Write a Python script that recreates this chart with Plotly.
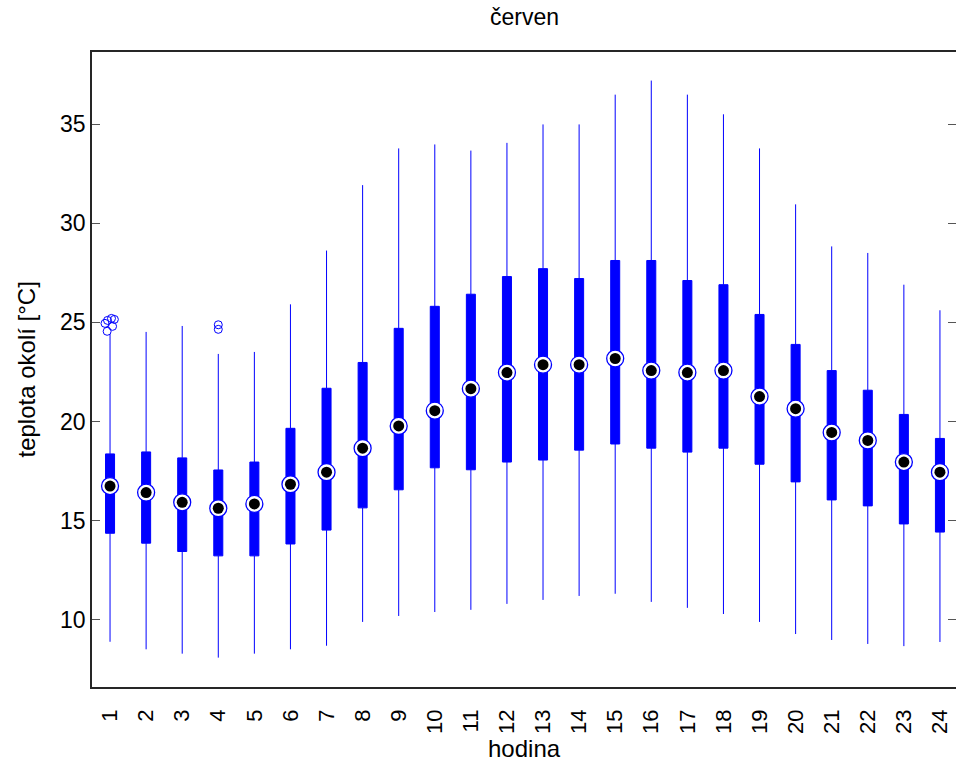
import plotly.graph_objects as go

hours = list(range(1, 25))
upper = [24.4, 24.52, 24.82, 23.41, 23.51, 25.91, 28.62, 31.92, 33.77, 33.97, 33.66, 34.05,
         34.98, 34.98, 36.48, 37.19, 36.48, 35.49, 33.77, 30.95, 28.83, 28.50, 26.90, 25.61]
q3 = [18.37, 18.47, 18.17, 17.56, 17.96, 19.66, 21.68, 22.98, 24.70, 25.81, 26.42, 27.31,
      27.71, 27.21, 28.12, 28.12, 27.11, 26.90, 25.40, 23.89, 22.57, 21.58, 20.36, 19.15]
median = [16.75, 16.42, 15.93, 15.63, 15.85, 16.84, 17.45, 18.66, 19.78, 20.55, 21.66, 22.47,
          22.87, 22.87, 23.18, 22.57, 22.47, 22.57, 21.26, 20.65, 19.45, 19.05, 17.96, 17.45]
q1 = [14.37, 13.87, 13.45, 13.23, 13.23, 13.83, 14.53, 15.65, 16.56, 17.67, 17.57, 17.96,
      18.06, 18.56, 18.87, 18.66, 18.46, 18.66, 17.85, 16.96, 16.05, 15.75, 14.84, 14.43]
lower = [8.90, 8.52, 8.30, 8.10, 8.30, 8.52, 8.70, 9.90, 10.20, 10.40, 10.51, 10.81,
         11.01, 11.21, 11.32, 10.91, 10.61, 10.30, 9.90, 9.29, 8.99, 8.79, 8.68, 8.89]

outlier_x = [0.86, 0.93, 1.04, 1.12, 1.07, 0.92, 4.0, 4.0]
outlier_y = [24.95, 25.1, 25.2, 25.15, 24.8, 24.55, 24.88, 24.65]

y_ticks = [10, 15, 20, 25, 30, 35]

BLUE = "#0000ff"
FONT = "Liberation Sans, Arial, sans-serif"

fig = go.Figure()
fig.add_trace(go.Box(
    x=hours, q1=q1, median=median, q3=q3, lowerfence=lower, upperfence=upper,
    fillcolor=BLUE, line=dict(color=BLUE, width=1), width=0.25, whiskerwidth=0,
    boxpoints=False, showlegend=False, hoverinfo="skip",
))
fig.add_trace(go.Scatter(
    x=outlier_x, y=outlier_y, mode="markers", showlegend=False,
    marker=dict(symbol="circle-open", size=8, color=BLUE, line=dict(width=1, color=BLUE)),
))
fig.add_trace(go.Scatter(
    x=hours, y=median, mode="markers", showlegend=False,
    marker=dict(symbol="circle", size=17, color="white", line=dict(width=1.3, color=BLUE)),
))
fig.add_trace(go.Scatter(
    x=hours, y=median, mode="markers", showlegend=False,
    marker=dict(symbol="circle", size=11, color="black", line=dict(width=0)),
))
# invisible trace on the right y axis for mirrored ticks
fig.add_trace(go.Scatter(x=[hours[0]], y=[median[0]], yaxis="y2", mode="markers",
                         marker=dict(opacity=0), showlegend=False, hoverinfo="skip"))

yr = [6.62, 38.63]
fig.update_layout(
    width=956, height=762,
    margin=dict(l=92, r=0, t=52, b=75),
    paper_bgcolor="white", plot_bgcolor="white",
    font=dict(family=FONT, size=23, color="black"),
    showlegend=False,
    xaxis=dict(
        range=[0.5, 24.445], tickmode="array", tickvals=hours, ticktext=[str(h) for h in hours],
        tickangle=-90, ticks="outside", ticklen=12, tickcolor="rgba(0,0,0,0)",
        showgrid=False, zeroline=False,
        showline=True, mirror=True, linecolor="#262626", linewidth=1.5,
        tickfont=dict(size=22), automargin=False,
    ),
    yaxis=dict(
        range=yr, tickmode="array", tickvals=y_ticks, ticks="inside", ticklen=8,
        tickcolor="#555555", tickwidth=1, showgrid=False, zeroline=False,
        showline=True, mirror=False, linecolor="#262626", linewidth=1.5,
        tickfont=dict(size=23), automargin=False,
    ),
    yaxis2=dict(
        range=yr, overlaying="y", side="right", tickmode="array", tickvals=y_ticks,
        ticks="inside", ticklen=8, tickcolor="#555555", tickwidth=1,
        showticklabels=False, showgrid=False, zeroline=False, showline=False,
    ),
    annotations=[
        dict(text="červen", xref="paper", yref="paper", x=0.5, y=1, yshift=20,
             yanchor="bottom", xanchor="center", showarrow=False, font=dict(size=23)),
        dict(text="hodina", xref="paper", yref="paper", x=0.5, y=0, yshift=-61,
             yanchor="middle", xanchor="center", showarrow=False, font=dict(size=24)),
        dict(text="teplota okolí [°C]", xref="paper", yref="paper", x=0, xshift=-66,
             y=0.5, textangle=-90, xanchor="center", yanchor="middle",
             showarrow=False, font=dict(size=24)),
    ],
)
fig.write_html("out.html")
